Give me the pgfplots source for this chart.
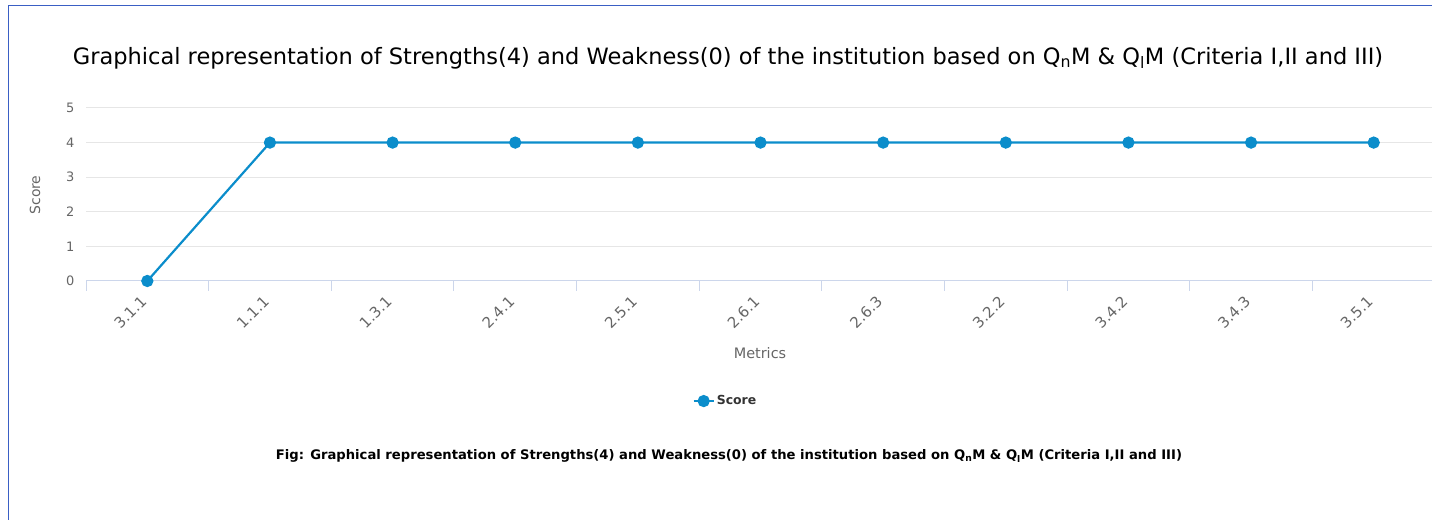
\documentclass[border=0pt]{standalone}
\usepackage{fontspec}
\setmainfont{DejaVu Sans}
\usepackage{pgfplots}
\pgfplotsset{compat=1.18}
\definecolor{lineblue}{HTML}{0B8DCB}
\definecolor{axiscol}{HTML}{CCD6EB}
\definecolor{gridcol}{HTML}{E6E6E6}
\definecolor{labelcol}{HTML}{666666}
\definecolor{framecol}{HTML}{3A5FC4}

\begin{document}
\begin{tikzpicture}[x=1bp,y=1bp]
\useasboundingbox (0,0) rectangle (1432,520);
% frame of the chart box
\draw[framecol, line width=1.5bp] (8.5,0) -- (8.5,514.5) -- (1432,514.5);

\begin{axis}[
	at={(86bp,239bp)}, anchor=south west,
	scale only axis,
	width=1349bp, height=173bp,
	xmin=-0.5, xmax=10.5,
	ymin=0, ymax=5,
	ytick={0,1,2,3,4,5},
	xtick={0,...,10},
	xticklabels={3.1.1,1.1.1,1.3.1,2.4.1,2.5.1,2.6.1,2.6.3,3.2.2,3.4.2,3.4.3,3.5.1},
	minor xtick={-0.5,0.5,...,10.5},
	major tick length=0pt,
	minor tick length=10bp,
	tick align=outside,
	minor tick style={draw=axiscol, line width=1bp},
	axis x line*=bottom,
	axis y line*=left,
	x axis line style={-, draw=axiscol, line width=1bp},
	y axis line style={draw=none},
	ymajorgrids,
	grid style={draw=gridcol, line width=1bp},
	/pgf/number format/assume math mode=true,
	yticklabel style={font=\fontsize{13}{15}\selectfont, text=labelcol, xshift=-8bp},
	xticklabel style={font=\fontsize{15}{17}\selectfont, text=labelcol,
		rotate=45, anchor=east, inner sep=0pt, xshift=-15bp, yshift=-10bp},
	legend style={at={(0.474,-0.694)}, anchor=center, draw=none, fill=none,
		font=\bfseries\fontsize{12.5}{14}\selectfont, text=black!80},
	legend image code/.code={
		\draw[mark repeat=2, mark phase=2] plot coordinates {(0bp,0bp) (10bp,0bp) (20bp,0bp)};},
	clip=false,
]
\addplot[color=lineblue, line width=2.2bp, mark=*, mark size=5bp,
	mark options={fill=lineblue, draw=lineblue}] coordinates {
	(0,0) (1,4) (2,4) (3,4) (4,4) (5,4) (6,4) (7,4) (8,4) (9,4) (10,4)
};
\addlegendentry{Score}
\end{axis}

\node[font=\fontsize{22.6}{26}\selectfont] at (728,462)
	{Graphical representation of Strengths(4) and Weakness(0) of the institution based on Q\textsubscript{n}M \& Q\textsubscript{l}M (Criteria I,II and III)};
\node[rotate=90, text=labelcol, font=\fontsize{14}{16}\selectfont] at (35,325) {Score};
\node[text=labelcol, font=\fontsize{14.5}{16}\selectfont] at (760,167) {Metrics};
\node[font=\bfseries\fontsize{13.2}{15}\selectfont] at (729,64)
	{Fig: Graphical representation of Strengths(4) and Weakness(0) of the institution based on Q\textsubscript{n}M \& Q\textsubscript{l}M (Criteria I,II and III)};
\end{tikzpicture}
\end{document}
